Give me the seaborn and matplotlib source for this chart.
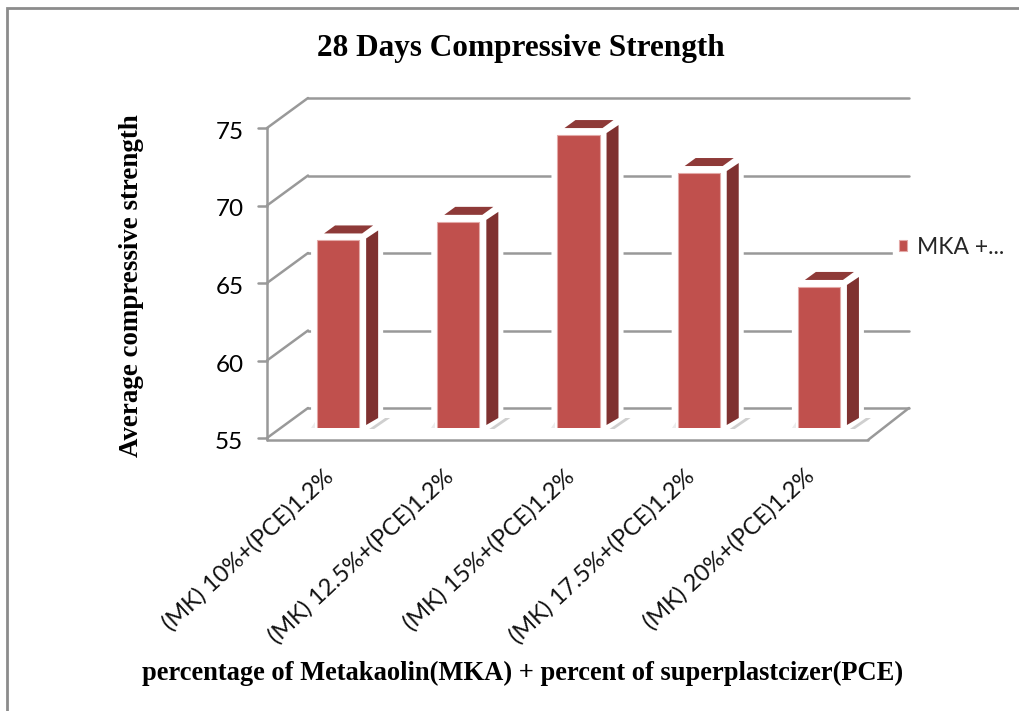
import matplotlib
matplotlib.use('Agg')
import matplotlib.pyplot as plt
import seaborn as sns
from matplotlib.lines import Line2D
from matplotlib.patches import Polygon, Rectangle
from matplotlib.transforms import Affine2D, IdentityTransform

categories = ['(MK) 10%+(PCE)1.2%', '(MK) 12.5%+(PCE)1.2%', '(MK) 15%+(PCE)1.2%',
              '(MK) 17.5%+(PCE)1.2%', '(MK) 20%+(PCE)1.2%']
strength = [67.1, 68.3, 73.9, 71.45, 64.1]
y_ticks = [55, 60, 65, 70, 75]
series_name = 'MKA +...'

W, H = 1020, 711
FRONT = '#C0504D'
SIDE = '#7F3130'
TOP = '#8E3A38'
GRID = '#999999'
SERIF = 'Liberation Serif'

sns.set_style('white')
plt.rcParams['font.family'] = ['Lato', 'DejaVu Sans']


def rect(x0, y0, x1, y1):
    # pixel box (y from the top) to figure fractions
    return [x0 / W, 1 - y1 / H, (x1 - x0) / W, (y1 - y0) / H]


fig = plt.figure(figsize=(W / 100, H / 100), dpi=100)
fig.patch.set_facecolor('white')
fig.add_artist(Rectangle((7 / W, -0.1), 1.1, 1 - 8 / H + 0.1, transform=fig.transFigure,
                         fill=False, edgecolor='#8c8c8c', linewidth=2))

# front plane of the box holds the axis text, the bars stand a bit deeper
front = fig.add_axes(rect(267, 128, 868, 438))
bars = fig.add_axes(rect(278, 118, 879, 428))
bars.set_zorder(front.get_zorder() + 1)
front.patch.set_alpha(0)
bars.patch.set_alpha(0)

sns.barplot(x=categories, y=strength, ax=bars, color=FRONT, saturation=1, width=0.35,
            label=series_name, edgecolor='#e3a9a7', linewidth=0.8)
bars.set_ylim(55, 75)
bars.set_xlim(-0.5, 4.5)
bars.axis('off')

front.set_xlim(-0.5, 4.5)
front.set_ylim(55, 75)
for s in front.spines.values():
    s.set_visible(False)
front.set_yticks(y_ticks)
front.set_yticklabels([str(t) for t in y_ticks])
front.set_xticks(range(len(categories)))
front.set_xticklabels(categories, rotation=43, ha='right', rotation_mode='anchor')
front.tick_params(axis='y', labelsize=17.5, length=0, pad=17, labelcolor='black')
front.tick_params(axis='x', labelsize=17, length=0, pad=21, labelcolor='#111111')
for lab in front.get_xticklabels():
    lab.set_transform(lab.get_transform() + Affine2D().translate(-4, 2))
for lab in front.get_yticklabels():
    lab.set_transform(lab.get_transform() + Affine2D().translate(0, -2.5))

front.set_xlabel('percentage of Metakaolin(MKA) + percent of superplastcizer(PCE)',
                 family=SERIF, weight='bold', fontsize=19.1, x=0.425, labelpad=10, color='black')
front.set_ylabel('Average compressive strength', family=SERIF, weight='bold', fontsize=19.4,
                 labelpad=51, y=0.49, color='black')
front.set_title('28 Days Compressive Strength', family=SERIF, weight='bold', fontsize=22.5,
                x=0.422, pad=52, color='black')


def line(ax, p, q, color=GRID, lw=1.8):
    ax.add_line(Line2D([p[0], q[0]], [p[1], q[1]], color=color, lw=lw, clip_on=False,
                       transform=IdentityTransform(), zorder=1))


# wall and floor lines follow the y axis scale
x_left, x_right = front.get_xlim()
depth = (41, 30)
for t in y_ticks:
    p = front.transData.transform((x_left, t))
    back = p + depth
    end = front.transData.transform((x_right, t)) + depth
    line(front, p + (-9, 0), p)
    line(front, p, back)
    line(front, back, end)
base_l = front.transData.transform((x_left, y_ticks[0]))
base_r = front.transData.transform((x_right, y_ticks[0]))
top_l = front.transData.transform((x_left, y_ticks[-1]))
line(front, base_l + (0, -2), top_l)
line(front, base_l + (0, -2), base_r + (0, -2))
line(front, base_r + (0, -2), base_r + depth)


def poly(pts, color, z):
    bars.add_patch(Polygon(pts, closed=True, facecolor=color, edgecolor='none', clip_on=False,
                           transform=IdentityTransform(), zorder=z))


# 3D look of each bar, taken from the corners of the seaborn bar
for bar in bars.patches[:len(strength)]:
    bar.set_zorder(4)
    x0, x1 = bar.get_x(), bar.get_x() + bar.get_width()
    val = bar.get_y() + bar.get_height()
    lt = bars.transData.transform((x0, val))
    rt = bars.transData.transform((x1, val))
    rb = bars.transData.transform((x1, y_ticks[0]))
    lb = bars.transData.transform((x0, y_ticks[0]))
    poly([lb + (-6, -2), rb + (9, -2), rb + (24, 12), rt + (24, 20), lt + (14, 20), lt + (-6, 6)],
         'white', 2)
    # shadow on the floor
    poly([rb + (10, -1), rb + (15, -1), rb + (31, 10), rb + (26, 10)], '#cfcfcf', 2.5)
    poly([lb + (-6, 0), lb + (-2, 0), lb + (-2, 6)], '#ececec', 2.5)
    poly([rt + (7, 2), rt + (19, 10), rb + (19, 10), rb + (7, 3)], SIDE, 3)
    poly([lt + (7, 7), rt + (3, 7), rt + (14, 15), lt + (18, 15)], TOP, 3)

leg = bars.legend(loc='center left', bbox_to_anchor=(893 / W, 1 - 247 / H),
                  bbox_transform=fig.transFigure, frameon=True, framealpha=1, edgecolor='white',
                  fontsize=16.5, handlelength=0.36, handleheight=0.36, handletextpad=0.45,
                  borderpad=0.25, borderaxespad=0)
leg.set_zorder(5)

fig.savefig('out.png', dpi=100)
